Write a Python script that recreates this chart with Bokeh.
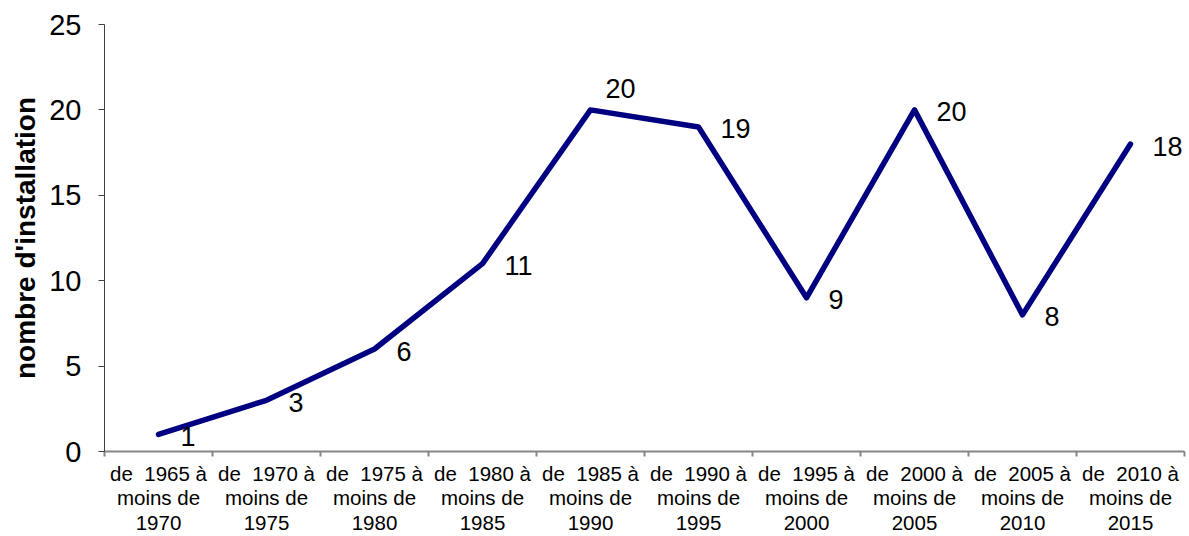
from bokeh.plotting import figure
from bokeh.models import Range1d, FixedTicker, ColumnDataSource, LabelSet
from bokeh.core.properties import value
from bokeh.embed import file_html
from bokeh.resources import INLINE

# ---- data ----
categories = [
    "de\u00a0 1965 à\nmoins de\n1970",
    "de\u00a0 1970 à\nmoins de\n1975",
    "de\u00a0 1975 à\nmoins de\n1980",
    "de\u00a0 1980 à\nmoins de\n1985",
    "de\u00a0 1985 à\nmoins de\n1990",
    "de\u00a0 1990 à\nmoins de\n1995",
    "de\u00a0 1995 à\nmoins de\n2000",
    "de\u00a0 2000 à\nmoins de\n2005",
    "de\u00a0 2005 à\nmoins de\n2010",
    "de\u00a0 2010 à\nmoins de\n2015",
]
values = [1, 3, 6, 11, 20, 19, 9, 20, 8, 18]
y_ticks = [0, 5, 10, 15, 20, 25]
y_title = "nombre d'installation"

# ---- label placement (style) ----
label_dx = [22, 22, 22, 22, 15, 22, 22, 22, 22, 22]
label_dy = [-2, -2, -2, -2, 21, -2, -2, -2, -2, -2]

FONT = "Liberation Sans"
n = len(categories)
xs = [i + 0.5 for i in range(n)]

p = figure(width=1189, height=536, x_range=Range1d(0, n), y_range=Range1d(0, 25),
           output_backend="svg", toolbar_location=None,
           min_border_left=104, min_border_top=24, min_border_right=5, min_border_bottom=84)
p.outline_line_color = None
p.xgrid.grid_line_color = None
p.ygrid.grid_line_color = None
p.background_fill_color = "white"
p.border_fill_color = "white"

# x axis: labels at centres, tick marks between categories
xa = p.xaxis[0]
xa.ticker = FixedTicker(ticks=xs, minor_ticks=list(range(n + 1)))
xa.major_label_overrides = {x: c for x, c in zip(xs, categories)}
xa.major_tick_out = 0
xa.major_tick_in = 0
xa.minor_tick_out = 5
xa.minor_tick_in = 0
xa.minor_tick_line_color = "#868686"
xa.minor_tick_line_width = 2
xa.axis_line_color = "#868686"
xa.axis_line_width = 2
xa.major_label_text_font = FONT
xa.major_label_text_font_size = "20.5px"
xa.major_label_text_color = "#000000"
xa.major_label_text_line_height = 1.07
xa.major_label_standoff = 5

ya = p.yaxis[0]
ya.ticker = FixedTicker(ticks=y_ticks)
ya.minor_tick_line_color = None
ya.major_tick_out = 6
ya.major_tick_in = 0
ya.major_tick_line_color = "#404040"
ya.axis_line_color = "#404040"
ya.axis_line_width = 1
ya.major_label_text_font = FONT
ya.major_label_text_font_size = "29px"
ya.major_label_text_color = "#000000"
ya.major_label_standoff = 17
ya.axis_label = y_title
ya.axis_label_text_font = FONT
ya.axis_label_text_font_style = "bold"
ya.axis_label_text_font_size = "28px"
ya.axis_label_text_color = "#000000"
ya.axis_label_standoff = 5

src = ColumnDataSource(dict(x=xs, y=values, t=[str(v) for v in values],
                            dx=label_dx, dy=label_dy))
p.line("x", "y", source=src, line_color="#000080", line_width=5.5,
       line_join="round", line_cap="round")

labels = LabelSet(x="x", y="y", text="t", source=src, x_offset="dx", y_offset="dy",
                  text_font=value(FONT), text_font_size=value("27px"),
                  text_color=value("#000000"),
                  text_align="left", text_baseline="middle")
p.add_layout(labels)

open("out.html", "w").write(file_html(p, INLINE))
